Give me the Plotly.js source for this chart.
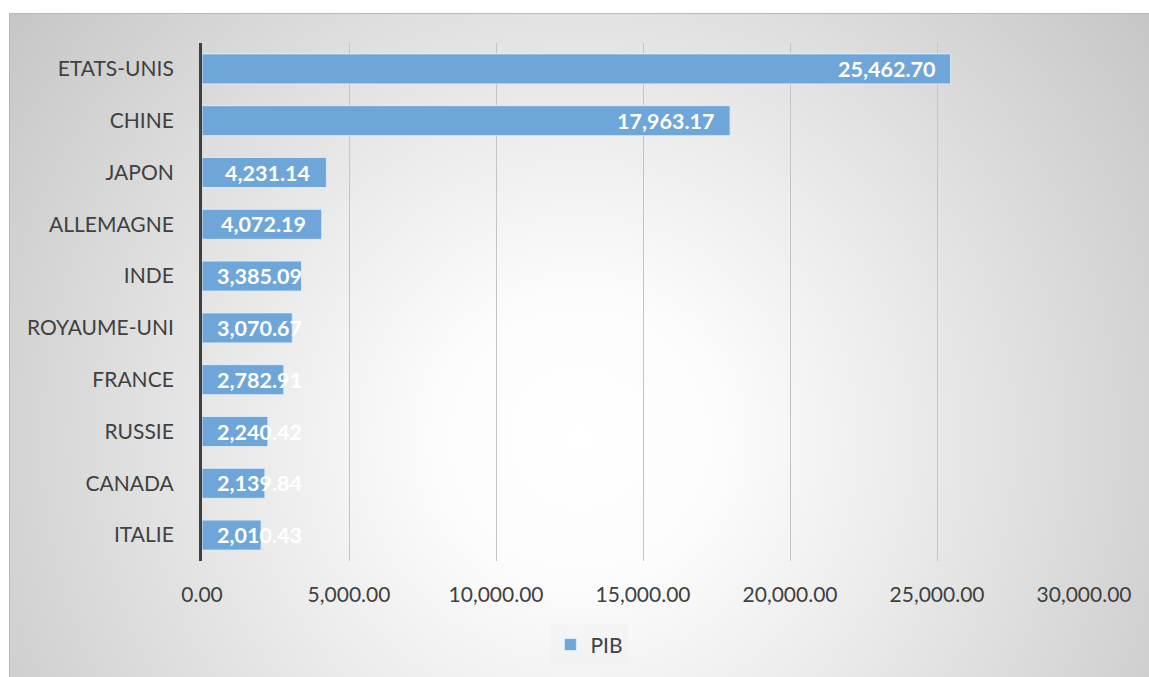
<!DOCTYPE html>
<html>
<head>
<meta charset="utf-8">
<script src="https://cdn.plot.ly/plotly-3.0.1.min.js"></script>
<style>
  html, body { margin: 0; padding: 0; background: #ffffff; }
  #wrap { position: relative; width: 1149px; height: 677px; overflow: hidden; }
  #bg {
    position: absolute; left: 9px; top: 13px; width: 1140px; height: 664px;
    border-top: 1px solid #b8b8b8; border-left: 1px solid #b8b8b8;
    background: radial-gradient(circle farthest-corner at 50% 64%, #ffffff 0%, #fcfcfc 20%, #ececec 45%, #c6c6c6 100%);
  }
  #chart { position: absolute; left: 0; top: 0; width: 1149px; height: 677px; }
</style>
</head>
<body>
<div id="wrap">
  <div id="bg"></div>
  <div id="chart"></div>
</div>
<script>
const countries = ["ETATS-UNIS", "CHINE", "JAPON", "ALLEMAGNE", "INDE", "ROYAUME-UNI", "FRANCE", "RUSSIE", "CANADA", "ITALIE"];
const pib = [25462.70, 17963.17, 4231.14, 4072.19, 3385.09, 3070.67, 2782.91, 2240.42, 2139.84, 2010.43];
const seriesName = "PIB";
const xTicks = [0, 5000, 10000, 15000, 20000, 25000, 30000];

const fmt = v => v.toLocaleString('en-US', {minimumFractionDigits: 2, maximumFractionDigits: 2});
const FONT = "Lato, 'Open Sans', sans-serif";

const trace = {
  type: 'bar',
  orientation: 'h',
  name: seriesName,
  y: countries,
  x: pib,
  marker: { color: 'rgb(111,166,217)', line: { color: 'rgba(225,236,248,0.9)', width: 1 } },
  hoverinfo: 'x+y'
};

// Data labels: inside end, but clamped to start of the bar when the bar is too short
const annotations = pib.map((v, i) => {
  const big = v >= 3500;
  return {
    x: big ? v : 0,
    y: countries[i],
    xref: 'x', yref: 'y',
    text: fmt(v),
    showarrow: false,
    xanchor: big ? 'right' : 'left',
    xshift: big ? -14 : 13,
    font: { family: FONT, size: 21.5, color: '#ffffff', weight: 'bold' }
  };
});

const layout = {
  width: 1149, height: 677,
  paper_bgcolor: 'rgba(0,0,0,0)',
  plot_bgcolor: 'rgba(0,0,0,0)',
  margin: { l: 202, r: 65, t: 43, b: 114, pad: 0 },
  bargap: 0.42,
  font: { family: FONT, size: 21, color: '#404040' },
  xaxis: {
    range: [0, 30000],
    tickvals: xTicks,
    ticktext: xTicks.map(fmt),
    showgrid: true, gridcolor: '#c4c4c4', gridwidth: 1,
    zeroline: false, showline: false, ticks: '',
    ticklabelstandoff: 19,
    tickfont: { family: FONT, size: 21, color: '#404040' },
    fixedrange: true
  },
  yaxis: {
    type: 'category',
    autorange: 'reversed',
    showgrid: false, zeroline: false,
    showline: true, linecolor: '#404040', linewidth: 3,
    ticks: '',
    ticklabelstandoff: 21,
    tickfont: { family: FONT, size: 21, color: '#404040' },
    fixedrange: true
  },
  showlegend: true,
  legend: {
    orientation: 'h',
    x: 0.395, xanchor: 'left',
    y: -0.162, yanchor: 'middle',
    bgcolor: 'rgba(235,235,235,0.25)',
    font: { family: FONT, size: 21, color: '#404040' },
    itemwidth: 30
  },
  annotations: annotations
};

Plotly.newPlot('chart', [trace], layout, { displayModeBar: false, staticPlot: true });
</script>
</body>
</html>
